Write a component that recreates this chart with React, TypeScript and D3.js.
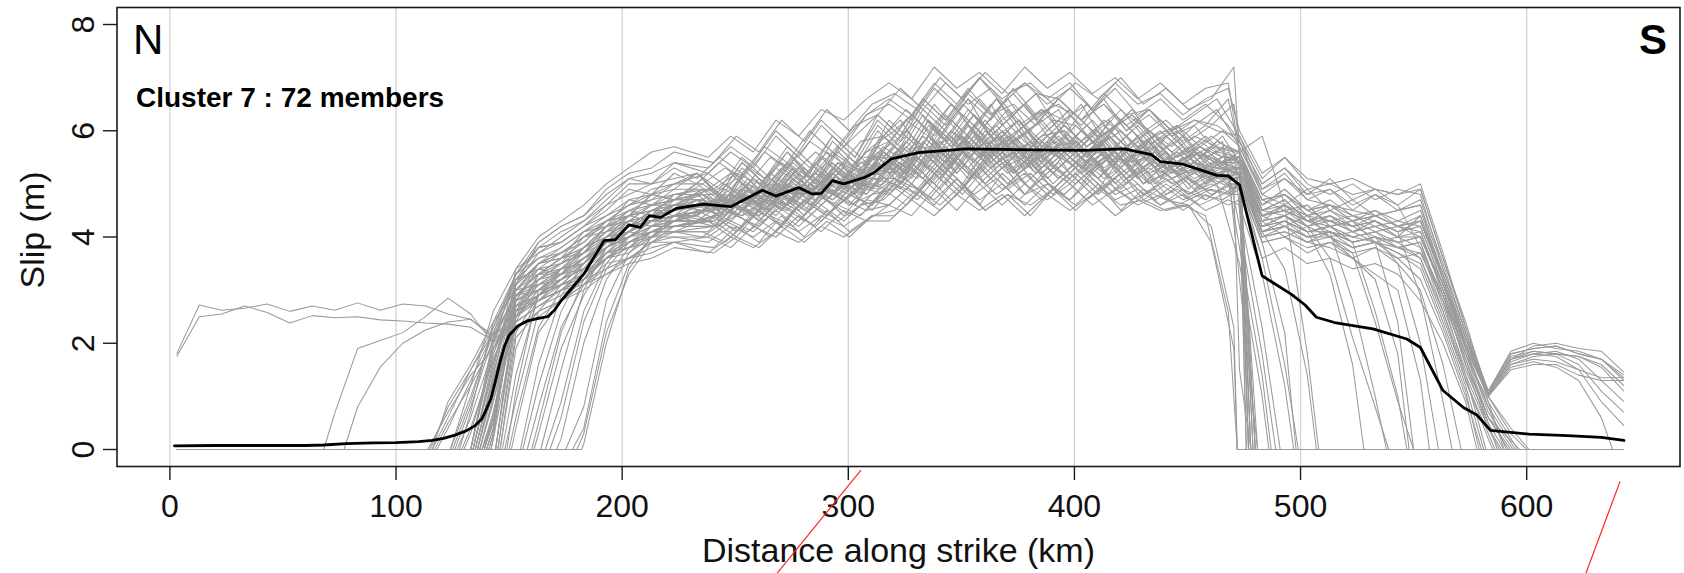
import React, { useEffect } from 'react';
import * as d3 from 'd3';

const W = 1684;
const H = 573;

const X_TICKS = [0, 100, 200, 300, 400, 500, 600];
const Y_TICKS = [0, 2, 4, 6, 8];
const X_DOMAIN = [-23.4, 667.8];
const Y_DOMAIN = [-0.32, 8.32];

// along-strike sampling of the member models (km): 3, 13, ..., 643
const GRID_KM = d3.range(3, 644, 10);
const MID_START = 23; // index of 233 km
const TAIL_START = 47; // index of 473 km
// members are sampled on staggered along-strike positions in the central segment (km shift)
const MID_SHIFT_KM = [0, 5, 2.5, 7.5];

// km where each member's slip leaves zero (-1: slip already at the first sample)
const MEMBER_FROM = [
  -1, -1, 68, 77,
  115, 117, 116, 118, 114, 116, 125, 127, 124, 129, 126, 128, 130, 124, 134, 135, 133, 136, 137, 133, 138,
  134, 135, 136, 137, 138, 133, 134, 135, 136, 137, 138, 133, 134, 139, 140, 141, 142, 144, 145, 139, 140,
  141, 144, 146, 142, 139, 145, 144, 146,
  148, 150, 147, 151, 149, 156, 158, 160, 155, 161, 166, 168, 164, 171, 175, 178, 182, 180,
];

// km where each member's slip returns to zero (0: slip to the last sample)
const MEMBER_TO = [
  592, 481, 539, 478,
  591, 477, 0, 472, 550, 588, 489, 581, 0, 479, 499, 480, 593, 561, 476, 571, 0, 478, 487, 596, 477,
  508, 538, 472, 600, 498, 0, 480, 590, 481, 578, 491, 587, 479, 478, 0, 477, 497, 594, 476, 567, 585,
  480, 0, 486, 601, 507, 528, 589, 472,
  0, 580, 550, 595, 0, 590, 548, 0, 582, 478, 0, 579, 547, 638, 586, 557, 597, 0,
];

// slip (m) from the first sample after MEMBER_FROM up to 223 km
const MEMBER_HEAD: number[][] = [
  [1.8,2.72,2.62,2.66,2.74,2.6,2.7,2.62,2.76,2.62,2.74,2.7,2.55,2.45,2.15,2.9,3.3,3.5,4.0,4.1,4.5,4.4,4.8],
  [1.75,2.5,2.55,2.7,2.58,2.38,2.52,2.48,2.5,2.44,2.42,2.38,2.36,2.3,2.05,2.5,2.9,3.3,3.6,3.8,4.1,4.3,4.3],
  [0.7,1.9,2.05,2.2,2.5,2.85,2.55,2.0,3.0,3.5,3.6,4.1,4.3,4.4,4.8,4.7],
  [0.8,1.55,2.0,2.25,2.4,2.45,2.1,2.6,2.8,3.2,3.4,3.9,3.9,4.2,4.2],
  [0.8,1.5,2.3,3.3,3.6,3.8,4.1,4.2,4.7,4.6,4.9],
  [0.5,1.2,2.0,2.5,2.9,3.1,3.2,3.7,3.8,4.1,4.1],
  [0.9,1.6,2.4,3.0,3.4,3.3,3.8,4.0,4.4,4.3,4.7],
  [0.4,1.3,2.2,2.3,2.6,2.8,3.1,3.3,3.6,3.7,3.9],
  [0.7,1.4,1.9,2.7,3.2,3.4,3.5,4.0,4.1,4.5,4.4],
  [0.6,1.5,2.2,3.3,3.8,4.1,4.3,4.7,5.1,5.0,5.4],
  [0.9,2.3,3.2,3.3,3.6,3.7,4.2,4.3,4.6,4.6],
  [0.6,1.9,2.7,2.9,3.2,3.4,3.7,4.1,4.0,4.4],
  [1.2,2.6,3.4,3.7,3.9,4.2,4.4,4.6,4.9,5.0],
  [0.4,1.7,2.6,2.8,3.0,3.2,3.6,3.7,4.0,4.0],
  [0.8,2.1,2.9,3.0,3.4,3.7,3.9,4.3,4.2,4.6],
  [0.7,2.4,3.3,3.9,4.2,4.4,4.9,5.2,5.3,5.6],
  [0.3,1.8,2.8,3.1,3.2,3.5,3.9,4.0,4.3,4.3],
  [1.0,2.2,3.1,3.5,3.6,3.9,4.3,4.5,4.7,4.8],
  [1.6,3.0,3.3,3.4,3.8,4.0,4.2,4.5,4.6],
  [1.3,2.6,2.9,3.1,3.3,3.6,3.9,4.0,4.2],
  [2.0,3.3,3.8,3.9,4.2,4.5,4.9,4.8,5.2],
  [1.1,2.4,2.7,3.0,3.1,3.5,3.6,3.9,3.9],
  [0.9,2.8,3.4,3.5,3.8,4.2,4.3,4.6,4.7],
  [1.8,3.0,3.1,3.4,3.5,4.0,4.1,4.4,4.5],
  [0.7,2.5,3.0,3.1,3.5,3.8,4.0,4.1,4.3],
  [1.5,3.4,4.0,4.3,4.6,5.0,5.3,5.6,5.7],
  [1.4,3.2,3.4,3.7,3.9,4.3,4.4,4.8,4.7],
  [1.2,2.3,2.5,2.8,3.0,3.3,3.5,3.6,3.8],
  [1.0,2.9,3.3,3.3,3.7,4.1,4.2,4.5,4.5],
  [0.6,2.7,3.0,3.3,3.4,3.9,4.0,4.3,4.4],
  [2.1,3.2,3.6,3.7,4.0,4.3,4.6,4.7,5.0],
  [1.7,2.7,2.8,3.1,3.3,3.7,3.8,4.1,4.1],
  [1.4,3.1,3.7,4.0,4.3,4.6,5.0,5.0,5.3],
  [1.3,2.9,3.2,3.3,3.6,3.9,4.2,4.3,4.6],
  [0.9,2.5,2.8,3.0,3.2,3.6,3.8,3.9,4.1],
  [0.5,2.6,3.3,3.6,3.8,4.1,4.4,4.5,4.7],
  [1.9,2.8,3.0,3.3,3.6,3.8,4.1,4.3,4.4],
  [1.6,3.1,3.5,3.8,4.1,4.4,4.7,4.8,5.0],
  [0.5,2.7,2.9,3.2,3.4,3.8,4.0,4.2,4.2],
  [0.4,3.0,3.5,3.7,4.0,4.2,4.5,4.6,4.8],
  [0.3,2.9,3.1,3.4,3.6,3.9,4.2,4.4,4.5],
  [0.2,2.4,2.7,2.9,3.2,3.4,3.6,3.9,4.0],
  [2.5,3.3,3.6,3.8,4.2,4.4,4.5,4.7],
  [2.2,2.9,3.1,3.3,3.7,3.9,4.1,4.1],
  [0.6,3.2,3.8,3.9,4.2,4.6,4.8,5.0,5.1],
  [0.4,2.8,3.0,3.3,3.5,3.9,4.0,4.3,4.4],
  [0.3,2.9,3.2,3.5,3.7,4.0,4.3,4.4,4.6],
  [2.8,3.5,3.7,4.0,4.3,4.6,4.8,4.9],
  [1.9,2.9,3.2,3.4,3.8,4.0,4.2,4.3],
  [0.2,3.1,3.9,4.2,4.4,4.8,5.1,5.2,5.4],
  [0.7,2.5,2.8,3.0,3.3,3.6,3.8,4.0,4.1],
  [2.4,3.2,3.5,3.7,4.1,4.3,4.4,4.6],
  [2.6,3.1,3.3,3.6,3.9,4.1,4.3,4.5],
  [2.1,2.6,2.8,3.1,3.4,3.6,3.8,3.9],
  [0.9,2.6,3.1,3.5,3.9,4.1,4.3,4.4],
  [0.6,2.3,3.0,3.4,3.8,4.0,4.2,4.4],
  [1.4,2.9,3.4,3.8,4.2,4.4,4.6,4.7],
  [0.4,2.2,2.8,3.2,3.6,3.9,4.1,4.2],
  [1.1,3.0,3.2,3.6,4.0,4.3,4.4,4.6],
  [1.2,2.6,3.4,3.9,4.2,4.4,4.5],
  [0.8,2.3,3.1,3.7,4.0,4.2,4.3],
  [0.5,2.2,3.2,3.8,4.2,4.5,4.6],
  [1.6,2.9,3.5,3.9,4.1,4.3,4.4],
  [0.3,1.9,2.9,3.6,4.0,4.3,4.4],
  [0.9,2.6,3.5,4.0,4.3,4.4],
  [0.6,2.4,3.4,3.9,4.1,4.3],
  [1.5,3.0,3.8,4.2,4.4,4.6],
  [0.2,2.0,3.2,3.8,4.2,4.4],
  [0.8,2.8,3.7,4.1,4.3],
  [0.4,2.4,3.5,4.0,4.3],
  [0.1,2.0,3.4,4.0,4.3],
  [0.3,2.2,3.3,3.9,4.2],
];

// slip (m) at the 24 central samples (233 ... 463 km, staggered by MID_SHIFT_KM)
const MEMBER_MID: number[][] = [
  [4.9,4.5,5.2,4.8,5.4,4.9,5.6,5.1, 5.8,6.2,5.6,6.3,5.9,6.5,5.8,6.1, 6.4,5.7,6.2,5.9,5.5,6.0,5.4,5.8],
  [4.3,4.7,4.4,5.0,4.6,4.9,5.3,4.8, 5.4,5.1,5.8,5.2,5.7,5.9,5.3,5.8, 5.2,5.7,5.4,5.9,5.1,5.5,5.0,5.3],
  [5.1,4.6,5.3,4.9,5.5,5.0,5.7,5.3, 5.6,6.2,5.9,6.5,6.0,6.6,6.1,6.4, 5.9,6.5,6.0,6.3,5.8,6.1,5.5,5.9],
  [4.2,4.6,4.3,4.8,4.4,4.9,4.6,5.1, 5.0,5.5,5.1,5.6,5.0,5.4,5.8,5.2, 5.6,5.1,5.5,5.0,5.4,4.9,5.3,4.9],
  [5.2,4.8,5.4,5.0,5.6,5.1,5.8,5.4, 6.1,5.7,6.4,6.0,6.6,5.9,6.3,6.7, 6.0,6.5,5.8,6.3,6.0,5.7,6.1,5.6],
  [4.1,4.5,4.2,4.6,4.3,4.8,4.4,4.9, 4.8,5.3,4.9,5.5,5.0,5.4,4.8,5.3, 5.0,5.5,4.9,5.3,4.8,5.1,4.7,5.0],
  [4.7,4.4,4.9,4.6,5.2,4.8,5.3,5.0, 5.6,5.2,5.9,5.5,6.1,5.6,6.0,5.4, 5.9,5.5,6.2,5.6,5.9,5.3,5.7,5.4],
  [3.8,4.2,3.9,4.4,4.0,4.5,4.1,4.4, 4.5,4.9,4.6,5.0,4.5,4.8,4.4,4.9, 4.6,5.0,4.5,4.9,4.7,4.6,4.2,2.3],
  [4.4,4.8,4.5,5.0,4.6,5.1,4.8,5.3, 5.2,5.7,5.4,6.0,5.5,5.9,5.3,5.8, 5.5,6.0,5.6,5.4,5.8,5.3,5.6,5.4],
  [5.2,5.6,5.3,5.9,5.5,6.1,5.7,6.3, 6.5,6.2,6.8,6.4,7.0,6.5,6.9,6.6, 6.9,6.4,6.8,6.3,6.6,6.2,6.5,6.1],
  [4.9,4.5,5.1,4.7,5.3,4.9,5.4,5.2, 5.7,5.4,6.1,5.7,6.3,5.8,6.2,5.6, 6.1,5.7,6.0,6.4,5.8,6.0,5.5,5.8],
  [4.2,4.6,4.4,4.8,4.5,4.9,4.6,4.8, 5.1,4.9,5.4,5.0,5.6,5.2,5.5,5.0, 5.4,5.1,5.6,5.0,5.4,5.0,5.2,4.9],
  [5.2,4.8,5.4,5.1,5.6,5.2,5.9,5.5, 6.2,5.8,6.5,6.1,6.6,6.2,6.8,6.3, 6.5,6.1,6.6,6.0,6.3,5.9,6.1,6.4],
  [4.0,4.3,4.1,4.5,4.2,4.6,4.3,4.7, 4.6,5.0,4.7,5.1,4.6,5.2,4.8,5.0, 4.7,5.2,4.8,5.0,4.6,4.9,4.7,5.0],
  [4.6,4.3,4.9,4.5,5.1,4.7,5.2,4.9, 5.6,5.3,5.9,5.4,6.0,5.5,5.8,5.3, 5.7,5.4,5.9,5.3,5.6,5.2,5.5,5.1],
  [5.4,5.9,5.6,6.2,5.8,6.4,6.0,6.5, 6.7,6.4,7.0,6.6,7.1,6.7,6.9,6.5, 6.9,6.6,7.0,6.5,6.8,6.4,6.6,7.2],
  [4.4,4.7,4.5,4.9,4.6,5.0,4.7,5.1, 5.4,5.0,5.6,5.2,5.8,5.3,5.7,5.2, 5.6,5.2,5.5,5.0,5.4,5.1,5.3,5.0],
  [4.9,5.2,4.8,5.3,5.0,5.5,5.1,5.6, 5.8,6.3,5.9,6.4,5.8,6.2,6.5,5.9, 6.3,5.8,6.1,5.7,6.0,5.6,5.9,5.5],
  [4.5,4.9,4.6,5.1,4.8,5.2,4.9,5.4, 5.5,5.9,5.5,6.0,5.7,6.1,5.6,5.9, 6.0,5.6,5.9,5.4,5.8,5.4,5.6,5.3],
  [4.3,4.0,4.5,4.2,4.7,4.4,4.8,4.6, 5.1,4.8,5.3,4.9,5.5,5.0,5.4,4.9, 5.3,4.9,5.5,5.0,5.2,4.8,5.1,4.9],
  [5.0,5.4,5.1,5.6,5.3,5.8,5.5,5.9, 6.3,5.9,6.6,6.2,6.7,6.3,6.5,6.1, 6.6,6.2,6.5,6.0,6.4,5.9,6.2,6.0],
  [4.0,3.8,4.2,4.0,4.4,4.1,4.5,4.3, 4.6,4.4,4.9,4.5,5.0,4.6,5.0,4.7, 5.0,4.6,4.9,4.6,4.8,4.5,4.8,4.6],
  [4.7,5.0,4.7,5.2,4.9,5.4,5.0,5.5, 5.5,6.0,5.6,6.2,5.8,6.4,5.9,6.2, 5.7,6.1,5.6,6.0,5.5,5.9,5.4,5.7],
  [4.6,4.4,4.8,4.5,5.0,4.7,5.1,4.9, 5.4,5.1,5.7,5.3,5.9,5.5,5.8,5.4, 5.8,5.4,5.7,5.3,5.6,5.2,5.5,5.3],
  [4.3,4.6,4.4,4.7,4.5,4.9,4.6,5.0, 5.0,5.4,5.1,5.6,5.2,5.7,5.1,5.5, 5.1,5.5,5.2,5.6,5.0,5.3,5.0,5.2],
  [5.5,5.9,5.6,6.2,5.9,6.4,6.2,6.6, 6.9,6.6,7.2,6.8,7.1,6.7,7.2,6.8, 7.1,6.7,7.0,6.6,6.9,6.5,6.8,6.9],
  [5.0,4.7,5.3,4.9,5.4,5.0,5.6,5.2, 5.9,5.5,6.2,5.8,6.3,5.9,6.2,5.7, 6.1,5.7,6.0,5.6,5.9,5.5,5.8,5.5],
  [3.7,4.0,3.8,4.2,3.9,4.3,4.0,4.4, 4.4,4.8,4.5,4.9,4.5,4.8,4.6,4.9, 4.5,4.9,4.6,4.7,4.5,4.6,3.9,1.9],
  [4.8,4.5,5.0,4.7,5.2,4.8,5.4,5.0, 5.6,5.3,5.9,5.5,6.1,5.6,5.9,5.5, 6.0,5.5,5.8,5.4,5.7,5.3,5.6,5.4],
  [4.5,4.3,4.7,4.4,4.9,4.6,5.0,4.8, 5.3,5.0,5.6,5.2,5.7,5.3,5.5,5.1, 5.5,5.2,5.6,5.1,5.4,5.1,5.3,5.1],
  [5.0,5.3,5.0,5.5,5.2,5.6,5.3,5.8, 5.9,6.4,6.0,6.5,6.1,6.6,6.0,6.4, 6.2,6.5,6.0,6.3,5.9,6.1,5.7,6.0],
  [4.4,4.1,4.6,4.2,4.7,4.4,4.9,4.5, 5.0,4.8,5.3,4.9,5.4,5.0,5.4,4.9, 5.3,4.9,5.2,4.8,5.1,4.8,5.0,4.8],
  [5.1,5.5,5.2,5.7,5.4,6.0,5.6,6.1, 6.3,6.8,6.4,6.9,6.5,6.8,6.3,6.7, 6.6,6.2,6.7,6.3,6.4,6.0,6.3,6.6],
  [4.6,4.9,4.6,5.0,4.8,5.2,4.9,5.3, 5.3,5.8,5.4,5.9,5.5,5.8,5.4,5.9, 5.5,5.9,5.4,5.8,5.3,5.6,5.2,5.5],
  [4.1,3.9,4.3,4.0,4.5,4.2,4.6,4.4, 4.9,4.6,5.1,4.7,5.2,4.8,5.1,4.7, 5.1,4.7,5.0,4.7,4.9,4.6,4.8,4.7],
  [4.9,4.6,5.1,4.8,5.3,4.9,5.5,5.1, 5.7,5.3,6.0,5.6,6.2,5.7,6.0,5.6, 6.1,5.7,6.0,5.5,5.9,5.5,5.7,5.6],
  [4.4,4.7,4.5,4.8,4.6,5.0,4.8,5.1, 5.1,5.6,5.2,5.7,5.3,5.8,5.2,5.6, 5.3,5.7,5.3,5.6,5.2,5.4,5.1,5.3],
  [5.2,4.9,5.4,5.0,5.6,5.2,5.8,5.4, 6.2,5.8,6.5,6.0,6.6,6.1,6.5,6.0, 6.4,6.0,6.3,5.9,6.2,5.8,6.1,6.6],
  [4.3,4.5,4.3,4.7,4.5,4.8,4.6,4.9, 5.0,5.4,5.0,5.5,5.1,5.6,5.2,5.5, 5.2,5.6,5.1,5.5,5.0,5.3,4.9,5.2],
  [4.8,5.1,4.8,5.3,5.0,5.4,5.1,5.5, 5.8,6.2,5.7,6.3,5.9,6.4,5.8,6.2, 6.1,5.7,6.2,5.8,6.0,5.6,5.9,5.6],
  [4.7,4.4,4.8,4.6,5.0,4.8,5.2,4.9, 5.5,5.2,5.8,5.4,5.9,5.5,5.8,5.3, 5.7,5.3,5.8,5.4,5.5,5.2,5.4,5.3],
  [3.9,4.2,4.0,4.3,4.1,4.4,4.2,4.5, 4.6,5.0,4.6,5.1,4.7,5.0,4.6,5.0, 4.7,5.1,4.7,4.9,4.6,4.8,4.5,4.7],
  [4.8,4.5,5.0,4.7,5.2,4.8,5.4,5.0, 5.6,5.3,5.9,5.5,6.1,5.6,6.0,5.6, 5.9,5.5,6.0,5.6,5.8,5.4,5.7,5.4],
  [4.2,4.4,4.2,4.6,4.3,4.7,4.4,4.8, 4.9,5.3,4.9,5.4,5.0,5.4,4.9,5.3, 5.0,5.4,4.9,5.3,4.8,5.1,4.8,5.0],
  [5.2,4.9,5.5,5.1,5.7,5.3,5.9,5.5, 6.3,5.9,6.6,6.2,6.8,6.3,6.7,6.2, 6.6,6.2,6.5,6.1,6.4,6.0,6.2,6.1],
  [4.5,4.7,4.4,4.9,4.6,5.0,4.7,5.1, 5.1,5.5,5.2,5.7,5.3,5.8,5.3,5.6, 5.4,5.8,5.3,5.6,5.2,5.5,5.1,5.3],
  [4.7,4.5,4.9,4.6,5.1,4.8,5.3,5.0, 5.6,5.3,5.9,5.4,6.0,5.6,5.9,5.5, 5.8,5.4,5.9,5.5,5.7,5.3,5.6,5.3],
  [4.9,5.2,5.0,5.4,5.1,5.6,5.3,5.7, 6.0,6.4,5.9,6.5,6.1,6.6,6.0,6.5, 6.3,5.9,6.4,5.9,6.2,5.8,6.1,6.5],
  [4.4,4.2,4.6,4.3,4.8,4.5,4.9,4.6, 5.2,4.9,5.4,5.0,5.6,5.1,5.5,5.0, 5.4,5.0,5.5,5.1,5.3,5.0,5.2,5.0],
  [5.3,5.7,5.4,6.0,5.6,6.2,5.8,6.3, 6.6,6.3,6.9,6.5,7.0,6.6,6.9,6.5, 6.8,6.4,6.9,6.5,6.7,6.3,6.6,6.8],
  [4.0,4.3,4.1,4.4,4.2,4.6,4.3,4.6, 4.7,5.1,4.7,5.2,4.8,5.1,4.7,5.1, 4.8,5.2,4.8,5.1,4.7,4.9,4.6,4.8],
  [4.6,4.9,4.6,5.0,4.8,5.1,4.9,5.3, 5.4,5.8,5.4,5.9,5.5,6.0,5.5,5.9, 5.6,6.0,5.5,5.9,5.4,5.7,5.3,5.5],
  [4.6,4.4,4.8,4.5,5.0,4.7,5.2,4.8, 5.5,5.1,5.7,5.3,5.9,5.4,5.8,5.3, 5.7,5.3,5.6,5.2,5.6,5.2,5.4,5.2],
  [3.7,4.0,3.8,4.1,3.9,4.2,4.0,4.3, 4.3,4.7,4.4,4.8,4.5,4.8,4.4,4.8, 4.5,4.8,4.4,4.7,4.5,4.6,4.4,2.6],
  [4.5,4.7,4.4,4.9,4.6,5.1,4.8,5.2, 5.2,5.7,5.3,5.9,5.4,5.9,5.3,5.8, 5.5,5.9,5.4,5.8,5.3,5.6,5.2,5.5],
  [4.3,4.6,4.4,4.8,4.6,5.0,4.8,5.1, 5.1,5.5,5.2,5.6,5.3,5.7,5.3,5.6, 5.3,5.6,5.2,5.5,5.3,5.4,5.1,5.3],
  [5.0,4.7,5.3,4.9,5.4,5.1,5.6,5.3, 6.0,5.6,6.3,5.8,6.4,5.9,6.3,5.8, 6.2,5.8,6.1,5.7,6.0,5.6,5.9,5.7],
  [4.3,4.0,4.4,4.1,4.6,4.3,4.7,4.5, 5.0,4.7,5.2,4.8,5.3,4.9,5.2,4.8, 5.2,4.8,5.1,4.7,5.0,4.7,4.9,4.8],
  [4.5,4.8,4.7,5.0,4.8,5.2,5.0,5.4, 5.3,5.8,5.4,6.0,5.6,6.0,5.5,5.9, 6.0,5.5,5.9,5.4,5.8,5.3,5.6,5.4],
  [4.7,4.4,4.9,4.5,5.0,4.7,5.2,4.9, 5.6,5.2,5.8,5.4,6.0,5.5,5.8,5.3, 5.8,5.4,5.7,5.3,5.6,5.2,5.5,5.2],
  [4.3,4.6,4.4,4.7,4.6,4.9,4.7,5.0, 4.9,5.4,5.1,5.6,5.1,5.6,5.2,5.5, 5.1,5.5,5.1,5.4,5.0,5.3,4.9,5.2],
  [4.9,4.6,5.1,4.8,5.3,5.0,5.4,5.2, 5.8,5.4,6.1,5.7,6.2,5.8,6.1,6.4, 5.8,6.2,5.7,6.1,5.6,5.9,5.5,5.7],
  [4.6,4.3,4.7,4.5,4.9,4.6,5.1,4.8, 5.4,5.1,5.6,5.2,5.8,5.3,5.6,5.2, 5.6,5.2,5.5,5.1,5.4,5.0,5.3,5.1],
  [4.5,4.8,4.6,4.9,4.8,5.1,4.9,5.3, 5.2,5.7,5.3,5.8,5.4,5.9,5.4,5.7, 5.8,5.3,5.8,5.3,5.6,5.2,5.4,5.2],
  [4.7,4.5,4.9,4.7,5.1,4.8,5.3,5.0, 5.7,5.3,5.9,5.5,6.1,5.6,5.9,5.5, 5.9,5.5,5.8,5.4,5.8,5.3,5.6,5.3],
  [4.3,4.6,4.4,4.7,4.5,4.9,4.7,5.0, 4.9,5.4,5.0,5.5,5.1,5.5,5.0,5.4, 5.1,5.5,5.0,5.4,5.0,5.2,4.9,5.1],
  [4.8,4.6,5.0,4.8,5.3,4.9,5.4,5.1, 5.9,5.5,6.2,5.7,6.3,5.8,6.2,5.7, 6.1,5.7,6.0,5.6,5.9,5.5,5.7,5.5],
  [4.5,4.7,4.5,4.9,4.8,5.1,4.9,5.2, 5.3,5.7,5.3,5.8,5.5,5.9,5.4,5.8, 5.4,5.8,5.4,5.7,5.3,5.5,5.2,5.4],
  [4.5,4.3,4.7,4.4,4.9,4.6,5.0,4.8, 5.4,5.0,5.6,5.2,5.7,5.3,5.6,5.2, 5.6,5.2,5.6,5.1,5.4,5.1,5.3,5.1],
  [4.5,4.8,4.6,5.0,4.8,5.2,5.0,5.3, 5.4,5.9,5.5,6.0,5.5,6.0,5.6,5.9, 5.6,6.0,5.5,5.9,5.4,5.7,5.3,5.6],
  [4.7,4.4,4.8,4.6,5.0,4.8,5.2,4.9, 5.5,5.2,5.7,5.3,5.9,5.4,5.7,5.3, 5.7,5.3,5.7,5.2,5.6,5.2,5.4,5.1],
  [4.4,4.1,4.5,4.2,4.7,4.4,4.8,4.6, 5.0,4.7,5.2,4.8,5.3,4.9,5.2,4.8, 5.2,4.8,5.2,4.7,5.0,4.7,4.9,4.8],
];

// slip (m) from 473 km onwards, until MEMBER_TO
const MEMBER_TAIL: number[][] = [
  [5.6,4.6,4.9,4.5,4.6,4.3,4.5,4.2,4.1,2.9,1.6,0.6],
  [3.2],
  [5.4,4.3,4.0,4.2,3.6,2.1,0.8],
  [1.5],
  [5.5,4.7,4.8,4.4,4.6,4.3,4.4,4.2,4.0,3.1,1.9,0.8],
  [4.9],
  [5.6,4.5,4.7,4.3,4.4,4.1,4.3,4.0,4.4,3.3,2.1,1.05,1.8,1.9,1.95,1.8,1.7,1.3],
  [],
  [5.3,4.4,4.2,4.4,4.0,3.7,2.4,0.9],
  [5.8,5.0,5.3,4.9,5.0,4.8,4.9,4.6,3.8,2.6,1.4,0.4],
  [4.2,1.8],
  [5.2,4.0,4.2,3.9,4.1,3.8,3.9,3.7,3.5,2.4,1.2],
  [5.7,4.9,5.2,4.7,4.9,4.5,4.8,4.6,4.9,3.6,2.3,1.1,1.7,1.95,2.0,1.9,1.85,1.45],
  [5.0],
  [5.1,3.6,1.6],
  [5.5],
  [5.3,4.2,4.4,4.1,4.2,4.0,4.1,3.8,3.7,2.8,1.7,0.6],
  [5.4,4.6,4.8,4.5,4.3,4.2,4.0,3.5,2.0],
  [5.2],
  [5.0,3.9,4.0,3.7,3.9,3.6,3.8,3.5,3.0,1.6],
  [5.9,5.1,5.5,5.0,4.8,5.0,4.7,4.9,4.8,3.4,2.2,1.0,1.75,1.85,1.8,1.75,1.55,1.1],
  [4.7],
  [3.8,1.4],
  [5.4,4.4,4.5,4.3,4.3,4.1,4.2,4.0,4.1,3.0,1.8,0.9],
  [5.0],
  [5.6,5.9,4.6,1.8],
  [5.5,4.5,4.7,4.3,4.1,2.8,1.0],
  [],
  [5.5,4.3,4.6,4.2,4.4,4.2,4.3,4.1,4.3,3.3,2.1,1.0,0.3],
  [5.0,3.9,2.2],
  [5.7,4.8,4.6,4.9,4.5,4.7,4.4,4.5,4.6,3.2,2.0,1.05,1.65,1.8,1.85,1.7,1.3,0.9],
  [4.8],
  [5.9,4.9,5.1,4.8,4.9,4.6,4.8,4.5,4.7,3.5,2.2,0.9],
  [5.1],
  [4.9,3.6,3.8,3.5,3.6,3.4,3.5,3.3,2.8,2.0,0.9],
  [4.5,2.3],
  [5.2,4.1,4.3,4.0,4.1,3.9,4.0,3.8,3.9,2.7,1.5,0.5],
  [5.6],
  [5.0],
  [5.6,4.6,4.9,4.5,4.7,4.4,4.5,4.3,4.5,3.3,2.1,1.1,1.85,2.0,1.9,1.85,1.7,1.35],
  [5.3],
  [4.6,3.3,1.2],
  [5.4,4.4,4.6,4.3,4.5,4.2,4.4,4.2,4.4,3.2,1.9,0.7],
  [4.9],
  [5.8,4.8,5.1,4.7,4.6,4.4,4.3,4.1,2.9,0.9],
  [5.3,4.2,4.3,4.1,4.2,3.9,4.0,3.9,3.6,2.6,1.3,0.2],
  [5.2],
  [5.8,5.0,5.3,4.8,5.1,4.7,4.9,4.8,5.0,3.7,2.3,1.05,1.7,1.8,1.75,1.5,0.9,0.45],
  [3.5,1.0],
  [6.0,5.2,5.5,5.1,5.0,5.1,4.9,4.8,4.9,3.6,2.4,1.0,0.4],
  [5.0,4.1,3.4,1.4],
  [5.3,4.3,4.4,4.1,3.3,1.6],
  [5.3,4.2,4.4,4.2,4.0,4.1,3.9,4.0,3.8,2.9,1.6,0.4],
  [],
  [5.5,4.4,4.6,4.4,4.3,4.4,4.2,4.3,4.2,3.1,2.0,1.05,1.6,1.75,1.8,1.75,1.6,1.2],
  [5.2,4.1,4.2,4.0,4.0,3.8,3.9,3.6,3.2,2.2,1.0],
  [5.6,4.7,4.5,4.6,4.2,4.3,3.9,2.4],
  [5.0,3.9,4.0,3.8,3.9,3.7,3.8,3.6,3.7,2.9,1.8,0.8],
  [5.5,4.5,4.4,4.6,4.2,4.3,4.1,4.2,4.3,3.2,2.0,1.0,1.6,1.7,1.65,1.5,1.35,1.35],
  [5.3,4.3,4.4,4.2,4.3,4.1,4.2,4.0,4.0,3.0,1.7,0.5],
  [5.1,4.0,4.1,3.9,3.8,3.6,3.2,1.8],
  [5.6,4.7,4.8,4.5,4.6,4.5,4.4,4.5,4.6,3.4,2.2,1.1,1.8,1.9,1.95,1.8,1.7,1.4],
  [5.2,4.1,4.3,4.1,4.1,4.0,3.9,3.8,3.9,2.8,1.4],
  [5.2],
  [5.5,4.5,4.6,4.4,4.5,4.3,4.4,4.2,4.3,3.2,2.1,1.05,1.7,1.85,1.8,1.6,1.1,0.7],
  [5.1,4.0,4.1,3.9,4.0,3.8,3.9,3.7,3.4,2.3,1.1],
  [5.5,4.5,4.7,4.3,4.2,3.9,2.6,1.0],
  [5.4,4.4,4.5,4.3,4.4,4.2,4.3,4.1,4.2,3.1,1.95,1.0,1.55,1.65,1.55,1.3,0.6],
  [5.2,4.1,4.2,4.0,4.1,3.9,4.0,3.8,3.6,2.5,1.3,0.3],
  [5.4,4.4,4.5,4.2,4.0,3.6,3.3,3.0,1.3],
  [5.2,4.2,4.3,4.1,4.2,4.0,4.1,3.9,4.0,3.0,1.8,0.6],
  [5.2,4.1,4.2,4.0,4.1,3.9,4.0,3.9,4.0,3.0,1.9,1.0,1.5,1.6,1.6,1.4,1.3,1.3],
];

// cluster mean slip: [km, slip (m)]
const MEAN: [number, number][] = [
  [2,0.07],[20,0.075],[40,0.075],[60,0.075],[68,0.085],[78,0.11],[90,0.125],[100,0.13],[110,0.15],[116,0.17],
  [121,0.21],[126,0.27],[131,0.35],[135,0.45],[138,0.58],[140,0.76],[142,0.96],[144,1.3],[146,1.65],[148,1.95],
  [150,2.15],[154,2.33],[158,2.42],[163,2.47],[167,2.5],[170,2.62],[173,2.8],[178,3.05],[183,3.3],[187,3.58],
  [192,3.93],[197,3.95],[203,4.23],[208,4.18],[212,4.4],[217,4.37],[224,4.54],[236,4.62],[248,4.57],[262,4.88],
  [268,4.77],[278,4.93],[284,4.81],[288,4.82],[293,5.06],[298,5.0],[307,5.12],[311,5.2],[319,5.47],[331,5.59],
  [352,5.66],[382,5.64],[404,5.63],[422,5.66],[434,5.55],[438,5.42],[448,5.37],[456,5.26],[463,5.16],[468,5.15],
  [473,4.98],[483,3.27],[496,2.92],[502,2.72],[507,2.49],[515,2.39],[532,2.27],[547,2.08],[553,1.92],[563,1.11],
  [572,0.79],[578,0.65],[584,0.36],[601,0.29],[618,0.26],[633,0.23],[643,0.17],
];

// thin red strokes overlaid on the figure: [km1, slip1, km2, slip2]
const OVERLAY_SEGMENTS: number[][] = [
  [305.6, -0.39, 268.5, -2.33],
  [641.3, -0.6, 626.2, -2.33],
];

const TITLE = 'Cluster 7 : 72 members';
const X_LABEL = 'Distance along strike (km)';
const Y_LABEL = 'Slip (m)';

function memberPoints(k: number): [number, number][] {
  const from = MEMBER_FROM[k];
  const to = MEMBER_TO[k];
  const shift = MID_SHIFT_KM[k % MID_SHIFT_KM.length];
  const first = GRID_KM[0];
  const last = GRID_KM[GRID_KM.length - 1];
  const pts: [number, number][] = [];
  let i0 = 0;
  if (from >= 0) {
    pts.push([first, 0]);
    pts.push([from, 0]);
    i0 = GRID_KM.findIndex((g) => g > from);
  }
  MEMBER_HEAD[k].forEach((v, j) => {
    const i = i0 + j;
    if (i < MID_START) pts.push([GRID_KM[i], v]);
  });
  MEMBER_MID[k].forEach((v, j) => pts.push([GRID_KM[MID_START + j] + shift, v]));
  MEMBER_TAIL[k].forEach((v, j) => {
    const g = GRID_KM[TAIL_START + j];
    if (g !== undefined) pts.push([g, v]);
  });
  if (to > 0) {
    const lastKm = pts[pts.length - 1][0];
    const z = Math.max(to, lastKm + 1);
    pts.push([z, 0]);
    if (z < last) pts.push([last, 0]);
  }
  return pts;
}

export default function App() {
  useEffect(() => {
    document.body.style.margin = '0';
  }, []);

  const left = 117, right = 1680, top = 7.5, bottom = 466.5;
  const x = d3.scaleLinear().domain(X_DOMAIN).range([left, right]);
  const y = d3.scaleLinear().domain(Y_DOMAIN).range([bottom, top]);
  const line = d3
    .line<[number, number]>()
    .x((d) => x(d[0]))
    .y((d) => y(d[1]));

  const font = "'Liberation Sans', Arial, Helvetica, sans-serif";

  return (
    <svg
      width={W}
      height={H}
      viewBox={`0 0 ${W} ${H}`}
      style={{ display: 'block', position: 'absolute', left: 0, top: 0, background: '#fff' }}
      fontFamily={font}
    >
      <rect x={0} y={0} width={W} height={H} fill="#fff" />
      {X_TICKS.map((t) => (
        <line key={'g' + t} x1={x(t)} x2={x(t)} y1={top} y2={bottom} stroke="#d3d3d3" strokeWidth={1.3} />
      ))}
      <g fill="none" stroke="#9a9a9a" strokeWidth={1.05} strokeLinejoin="round">
        {MEMBER_FROM.map((_, k) => (
          <path key={k} d={line(memberPoints(k)) || ''} />
        ))}
      </g>
      <path d={line(MEAN) || ''} fill="none" stroke="#000" strokeWidth={2.8} strokeLinejoin="round" strokeLinecap="round" />
      <rect x={left} y={top} width={right - left} height={bottom - top} fill="none" stroke="#1a1a1a" strokeWidth={1.6} />
      {X_TICKS.map((t) => (
        <g key={'x' + t}>
          <line x1={x(t)} x2={x(t)} y1={bottom} y2={bottom + 13.5} stroke="#1a1a1a" strokeWidth={1.4} />
          <text x={x(t)} y={516.5} fontSize={32} textAnchor="middle" fill="#111">
            {t}
          </text>
        </g>
      ))}
      {Y_TICKS.map((t) => (
        <g key={'y' + t}>
          <line x1={left - 14} x2={left} y1={y(t)} y2={y(t)} stroke="#1a1a1a" strokeWidth={1.4} />
          <text transform={`translate(94,${y(t)}) rotate(-90)`} fontSize={32} textAnchor="middle" fill="#111">
            {t}
          </text>
        </g>
      ))}
      <text x={(left + right) / 2} y={561.5} fontSize={34} textAnchor="middle" fill="#111">
        {X_LABEL}
      </text>
      <text transform={`translate(44,230) rotate(-90)`} fontSize={34} textAnchor="middle" fill="#111">
        {Y_LABEL}
      </text>
      <text x={133} y={53.5} fontSize={42} fill="#000">
        N
      </text>
      <text x={1667} y={54} fontSize={42} fontWeight="bold" textAnchor="end" fill="#000">
        S
      </text>
      <text x={136} y={107} fontSize={28} fontWeight="bold" fill="#000">
        {TITLE}
      </text>
      {OVERLAY_SEGMENTS.map((s, i) => (
        <line key={'r' + i} x1={x(s[0])} y1={y(s[1])} x2={x(s[2])} y2={y(s[3])} stroke="#ff2020" strokeWidth={1.2} />
      ))}
    </svg>
  );
}
